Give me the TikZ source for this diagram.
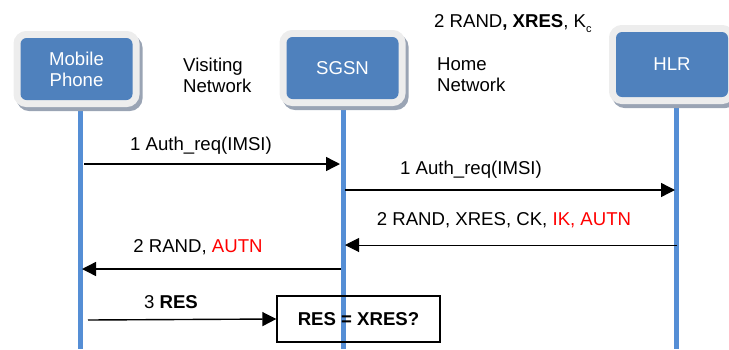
\documentclass[tikz,border=0pt]{standalone}
\usepackage{fontspec}
\setmainfont{Liberation Sans}
\usepackage{xcolor}
\definecolor{boxblue}{HTML}{4F81BD}
\definecolor{lineblue}{HTML}{558ED5}
\definecolor{rimgray}{HTML}{EDEDED}
\definecolor{shadegray}{HTML}{9AA4B4}
\definecolor{msgred}{HTML}{FF0000}
\usetikzlibrary{arrows.meta,positioning}

\begin{document}
\begin{tikzpicture}[
  x=1pt,y=-1pt,
  every node/.style={font=\fontsize{18.6}{21}\selectfont,align=center,inner sep=0pt},
  actor/.style={fill=boxblue,text=white,rounded corners=6pt,minimum width=112pt,minimum height=62pt,
    preaction={fill=shadegray,draw=shadegray,line width=14pt,transform canvas={shift={(3pt,-4pt)}}},
    preaction={draw=rimgray,line width=14pt}},
  life/.style={draw=lineblue,line width=5pt},
  ar/.style={-{Triangle[length=14pt,width=14pt]},line width=1.4pt},
  chk/.style={draw,line width=1.3pt,minimum width=163pt,minimum height=46pt,font=\fontsize{18.6}{21}\selectfont\bfseries}
]
\useasboundingbox (0,0) rectangle (729,349);
% lifelines
\coordinate (mpTop) at (80.5,100); \coordinate (mpBot) at (80.5,349);
\coordinate (sgTop) at (343.5,100); \coordinate (sgBot) at (343.5,349);
\coordinate (hlTop) at (676,100); \coordinate (hlBot) at (676,349);
\draw[life] (mpTop)--(mpBot); \draw[life] (sgTop)--(sgBot); \draw[life] (hlTop)--(hlBot);
% actors
\node[actor] (mp) at (76.5,69) {Mobile\\Phone};
\node[actor] (sgsn) at (342.5,68) {SGSN};
\node[actor,minimum height=65pt] (hlr) at (672,64.5) {HLR};
\node[anchor=west,align=left] (visit) at (183,75) {Visiting\\Network};
\node[anchor=west,align=left] (home) at (437,75) {Home\\Network};
\node[anchor=base west] (keys) at (434,27) {2 RAND\textbf{, XRES}, K\raisebox{-0.55ex}{\fontsize{11}{12}\selectfont c}};
% messages
\coordinate (m1) at (84,164); \coordinate (s1) at (340,164);
\draw[ar] (m1)--(s1);
\node (l1) at (201,146) {1 Auth\_req(IMSI)};
\coordinate (s2) at (345,190); \coordinate (h2) at (675,190);
\draw[ar] (s2)--(h2);
\node (l2) at (471,170) {1 Auth\_req(IMSI)};
\coordinate (h3) at (677,245); \coordinate (s3) at (345,245);
\draw[ar,line width=1pt] (h3)--(s3);
\node (l3) at (504,220) {2 RAND, XRES, CK, \textcolor{msgred}{IK, AUTN}};
\coordinate (s4) at (341,269); \coordinate (m4) at (82,269);
\draw[ar] (s4)--(m4);
\node (l4) at (198,247) {2 RAND, \textcolor{msgred}{AUTN}};
\node[chk] (cmp) at (358.5,319) {RES = XRES?};
\coordinate (m5) at (88,320);
\draw[ar] (m5)--(cmp.west);
\node (l5) at (171,302) {3 \textbf{RES}};
\end{tikzpicture}
\end{document}
